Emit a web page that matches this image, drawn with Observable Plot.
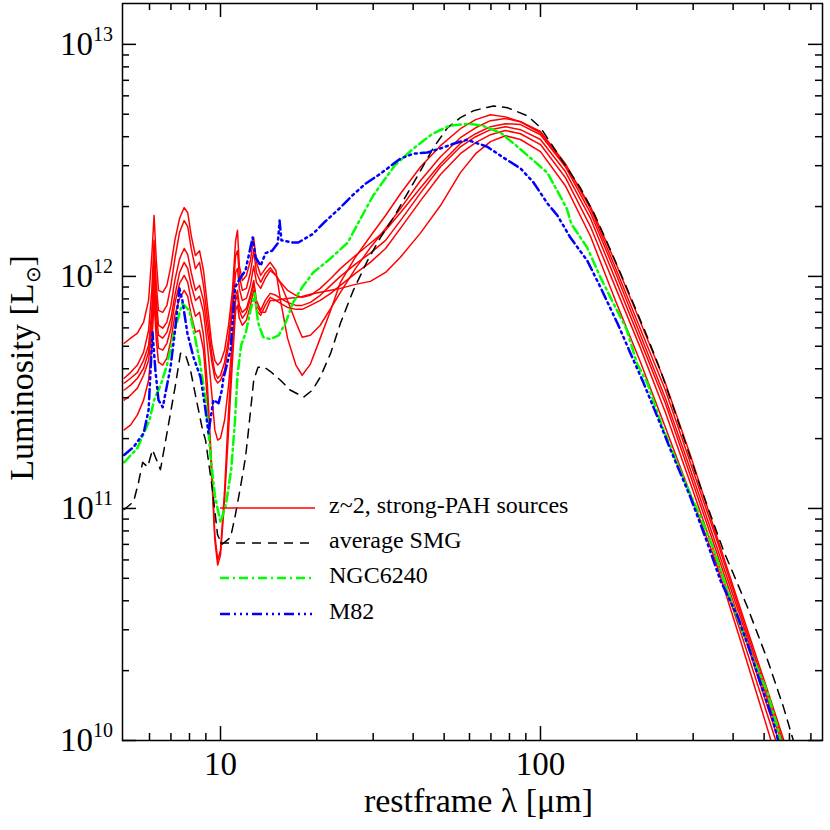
<!DOCTYPE html>
<html>
<head>
<meta charset="utf-8">
<script src="https://cdn.jsdelivr.net/npm/d3@7"></script>
<script src="https://cdn.jsdelivr.net/npm/@observablehq/plot@0.6"></script>
<style>
  html, body { margin: 0; padding: 0; background: #fff; }
  #chart { position: relative; width: 830px; height: 830px; }
</style>
</head>
<body>
<div id="chart"></div>
<script>
// Luminosity values below are in units of 1e11 L_sun
const UNIT = 1e11;

// ---- z~2 strong-PAH sources (six model SEDs on a shared wavelength grid, micron) ----
const redLambda = [5.0, 5.24, 5.5, 5.75, 5.96, 6.1, 6.2, 6.3, 6.4, 6.6,
  6.8, 7.0, 7.2, 7.45, 7.7, 7.9, 8.1, 8.35, 8.6, 8.85,
  9.1, 9.4, 9.6, 9.8, 10.0, 10.3, 10.6, 10.9, 11.15, 11.3,
  11.45, 11.7, 12.05, 12.4, 12.7, 12.95, 13.35, 13.8, 14.3, 14.9,
  15.4, 16.2, 17.2, 18.0, 19.1, 20.5, 22.1, 23.7, 26.4, 29.4,
  32.8, 36.5, 42.2, 48.7, 56.2, 62.7, 69.8, 77.7, 86.6, 100,
  119.6, 143.3, 171.5, 205.4, 245.6, 294.3, 352.2, 421.7, 504.7, 604.3];

const redA = [5.15, 5.42, 5.70, 6.35, 7.88, 12.3, 18.3, 11.7, 8.71, 8.54,
  9.15, 11.1, 14.3, 17.8, 19.8, 18.8, 15.0, 12.3, 12.9, 10.6,
  7.50, 5.05, 4.35, 4.15, 4.27, 4.81, 6.16, 8.71, 14.3, 15.8,
  11.1, 9.61, 10.1, 11.7, 14.7, 11.5, 10.1, 10.8, 11.5, 10.6,
  7.88, 5.42, 4.15, 3.75, 4.19, 5.42, 7.14, 9.43, 12.1, 14.9,
  18.3, 22.7, 29.7, 36.6, 43.3, 47.4, 49.7, 48.7, 46.4, 41.6,
  30.3, 20.0, 11.5, 6.35, 3.47, 1.69, 0.79, 0.37, 0.175, 0.082];

const redB = [3.64, 3.86, 4.15, 4.72, 5.86, 8.71, 14.3, 9.15, 7.14, 7.0,
  7.50, 9.15, 11.9, 15.5, 17.4, 16.4, 13.2, 10.8, 11.5, 9.15,
  6.60, 4.58, 3.86, 3.64, 3.75, 4.27, 5.42, 7.88, 12.3, 12.9,
  10.1, 8.71, 8.88, 10.4, 12.9, 10.4, 9.43, 10.3, 10.9, 10.1,
  9.34, 7.88, 6.35, 5.47, 5.58, 6.16, 7.28, 8.54, 10.8, 13.3,
  16.1, 19.6, 25.9, 32.8, 39.6, 43.7, 46.9, 47.9, 46.4, 42.1,
  30.6, 19.6, 10.9, 5.92, 3.24, 1.57, 0.76, 0.355, 0.167, 0.079];

const redC = [3.47, 3.64, 3.86, 4.35, 5.05, 7.14, 12.3, 7.88, 6.16, 5.98,
  6.35, 7.50, 9.61, 11.9, 13.2, 12.4, 10.4, 8.71, 9.15, 7.88,
  5.86, 4.27, 3.64, 3.47, 3.57, 3.94, 5.05, 7.14, 10.4, 10.8,
  8.88, 7.88, 8.04, 9.15, 11.1, 9.43, 8.88, 9.80, 10.6, 10.1,
  9.43, 8.71, 8.29, 8.12, 8.29, 8.88, 9.80, 10.8, 12.3, 13.9,
  15.8, 18.8, 24.1, 30.6, 37.4, 41.2, 44.2, 45.5, 45.1, 40.8,
  29.7, 18.8, 10.4, 5.58, 2.99, 1.47, 0.71, 0.34, 0.16, 0.075];

const redD = [3.24, 3.40, 3.64, 4.02, 4.72, 6.47, 10.8, 7.0, 5.58, 5.42,
  5.75, 6.60, 8.29, 10.4, 11.5, 10.8, 9.15, 7.88, 8.20, 7.0,
  5.05, 3.08, 2.18, 1.97, 2.01, 2.40, 3.40, 5.31, 8.29, 8.71,
  7.50, 7.0, 7.28, 8.29, 9.61, 7.88, 7.14, 7.88, 8.45, 8.29,
  8.04, 7.73, 7.50, 7.50, 7.73, 8.29, 9.15, 10.0, 11.3, 12.6,
  14.3, 17.4, 22.9, 29.7, 36.2, 40.0, 42.9, 44.2, 42.9, 38.9,
  28.3, 17.8, 9.71, 5.26, 2.84, 1.38, 0.67, 0.32, 0.149, 0.070];

const redE = [2.18, 2.29, 2.53, 2.93, 3.57, 5.05, 7.88, 5.31, 4.27, 4.15,
  4.44, 5.31, 6.80, 8.04, 8.71, 8.20, 6.80, 5.75, 5.86, 4.81,
  2.93, 1.33, 0.73, 0.57, 0.63, 1.09, 2.18, 4.35, 7.14, 7.50,
  6.60, 6.16, 6.47, 7.50, 8.71, 7.14, 6.80, 7.50, 8.12, 7.88,
  7.65, 7.35, 7.21, 7.21, 7.50, 7.88, 8.45, 9.15, 10.3, 11.5,
  13.2, 16.1, 21.2, 27.5, 33.8, 37.7, 40.8, 42.5, 41.2, 37.0,
  26.7, 16.4, 8.97, 4.91, 2.60, 1.28, 0.625, 0.295, 0.137, 0.064];

const redF = [2.93, 3.08, 3.30, 3.75, 4.35, 5.86, 9.15, 6.16, 4.91, 4.81,
  5.15, 5.98, 7.65, 9.34, 10.1, 9.43, 7.88, 6.73, 7.0, 5.58,
  3.40, 1.47, 0.77, 0.60, 0.66, 1.20, 2.65, 5.05, 7.88, 8.29,
  7.14, 6.60, 7.0, 8.04, 9.34, 7.50, 7.0, 7.0, 7.88, 7.88,
  7.96, 8.04, 8.12, 8.20, 8.37, 8.54, 8.71, 8.88, 9.24, 9.52,
  10.4, 12.1, 15.4, 20.2, 28.0, 33.8, 38.1, 40.4, 38.9, 34.5,
  24.6, 14.9, 7.88, 4.27, 2.24, 1.15, 0.595, 0.27, 0.12, 0.053];

// ---- average SMG ----
const smgLambda = [5.0, 5.35, 5.54, 5.71, 5.92, 6.13, 6.49, 6.83, 7.23, 7.50,
  7.77, 8.06, 8.41, 8.79, 8.98, 9.44, 9.79, 10.1, 10.75, 11.1,
  11.55, 11.97, 12.2, 12.7, 13.1, 13.7, 14.3, 15.4, 16.5, 18.2,
  19.4, 20.5, 22.1, 23.7, 26.0, 28.8, 31.6, 34.7, 38.4, 42.2,
  46.3, 51.2, 56.2, 61.8, 71.3, 78.9, 91.1, 100, 110, 121,
  133, 147, 162, 178, 195, 216, 237, 260, 316, 373,
  443, 512, 574, 617, 650];
const smgL = [0.99, 1.07, 1.29, 1.58, 1.51, 1.79, 1.47, 2.18, 3.40, 4.67,
  4.60, 3.94, 2.93, 2.18, 1.97, 1.20, 0.77, 0.70, 0.75, 0.92,
  1.24, 1.66, 2.10, 3.57, 4.06, 4.06, 3.90, 3.57, 3.24, 3.02,
  3.24, 3.68, 4.67, 6.28, 8.7, 11.7, 14.7, 17.9, 22.8, 28.6,
  35.9, 43.7, 48.3, 51.8, 54.3, 53.3, 49.2, 43.8, 35.9, 29.4,
  24.2, 18.7, 13.9, 10.3, 7.66, 5.47, 3.94, 2.73, 1.24, 0.66,
  0.377, 0.223, 0.14, 0.10, 0.078];

// ---- NGC6240 ----
const ngcLambda = [5.0, 5.5, 6.0, 6.2, 6.5, 6.8, 7.2, 7.6, 8.0, 8.3,
  8.6, 9.0, 9.3, 9.6, 10.0, 10.4, 10.8, 11.1, 11.3, 11.6,
  12.0, 12.4, 12.8, 13.1, 13.6, 14.3, 15.2, 16.0, 16.8, 18.0,
  19.5, 22, 25, 27, 30, 35, 40, 46, 52, 60,
  66, 75, 84, 95, 105, 115, 121, 125, 140, 154,
  169, 186, 200, 216, 232, 242, 279, 316, 346, 381,
  422, 464, 512, 549, 580];
const ngcL = [1.58, 1.82, 2.40, 2.93, 3.40, 4.14, 5.90, 7.66, 7.10, 5.57,
  4.35, 2.93, 1.70, 1.14, 0.87, 1.04, 1.47, 2.40, 3.75, 5.05,
  5.74, 7.10, 8.45, 6.34, 5.47, 5.37, 5.57, 6.34, 7.66, 8.97,
  10.4, 11.9, 14.0, 17.1, 22.3, 30.0, 35.5, 41.2, 44.6, 45.5,
  44.6, 41.6, 36.6, 31.6, 28.0, 22.3, 19.5, 16.8, 13.3, 9.9,
  7.66, 5.90, 4.23, 3.46, 2.58, 2.20, 1.36, 0.92, 0.68, 0.46,
  0.31, 0.223, 0.161, 0.115, 0.085];

// ---- M82 ----
const m82Lambda = [5.0, 5.35, 5.75, 5.96, 6.13, 6.26, 6.4, 6.6, 6.73, 6.98,
  7.23, 7.44, 7.6, 7.88, 8.23, 8.66, 8.98, 9.17, 9.5, 9.86,
  10.1, 10.2, 10.75, 11.1, 11.55, 11.97, 12.6, 12.87, 13.34, 13.83,
  14.5, 15.1, 15.3, 15.5, 16.8, 17.5, 19.4, 21.3, 23.7, 25.8,
  28.4, 31.6, 36.5, 40.1, 44.3, 48.7, 53.5, 58.9, 61.6, 68.2,
  76.6, 86.6, 95.1, 105.2, 113, 124, 140, 154, 174, 191,
  210, 232, 255, 294, 330, 365, 414, 453, 494, 532,
  553, 580];
const m82L = [1.70, 1.84, 2.11, 2.65, 5.75, 3.94, 2.93, 2.73, 3.14, 4.06,
  6.04, 8.88, 7.9, 5.69, 4.49, 3.68, 2.65, 2.11, 2.93, 2.84,
  3.24, 3.61, 4.80, 8.97, 9.9, 10.6, 14.7, 12.1, 11.1, 12.6,
  12.9, 13.9, 17.4, 14.3, 14.0, 14.0, 15.2, 17.3, 19.8, 22.3,
  25.1, 27.7, 32.2, 33.8, 34.2, 35.6, 37.3, 38.8, 38.0, 36.2,
  32.5, 29.2, 25.4, 20.6, 18.3, 14.7, 11.7, 8.97, 6.28, 4.67,
  3.47, 2.48, 1.79, 1.12, 0.73, 0.49, 0.34, 0.24, 0.166, 0.123,
  0.10, 0.08];

// ---- axes ----
const xMajor = [10, 100];
const xMinor = [6, 7, 8, 9, 20, 30, 40, 50, 60, 70, 80, 90, 200, 300, 400, 500, 600, 700];
const yMajor = [1e10, 1e11, 1e12, 1e13];
const yMinor = [2e10, 3e10, 4e10, 5e10, 6e10, 7e10, 8e10, 9e10,
  2e11, 3e11, 4e11, 5e11, 6e11, 7e11, 8e11, 9e11,
  2e12, 3e12, 4e12, 5e12, 6e12, 7e12, 8e12, 9e12];
const xTitle = "restframe λ [μm]";
const yTitle = "Luminosity [L";
const yTitleSub = "⊙";
const legendLabels = ["z~2, strong-PAH sources", "average SMG", "NGC6240", "M82"];

// ---- build tables ----
const toRows = (lam, vals, id) => lam.map((l, i) => ({lambda: l, L: vals[i] * UNIT, id}));
const redRows = [redA, redB, redC, redD, redE, redF].flatMap((v, k) => toRows(redLambda, v, "src" + k));
const smgRows = toRows(smgLambda, smgL, "smg");
const ngcRows = toRows(ngcLambda, ngcL, "ngc");
const m82Rows = toRows(m82Lambda, m82L, "m82");

const W = 830, H = 830, mL = 122, mR = 8, mT = 3, mB = 90;
const FW = W - mL - mR, FH = H - mT - mB;
const MAJ = 14, MIN = 7;
const tk = {stroke: "black", strokeWidth: 1.5};
const FONT = "'Liberation Serif', 'Times New Roman', Times, serif";

const styles = {
  red:   {stroke: "#ff0000", strokeWidth: 1.5, strokeDasharray: null},
  smg:   {stroke: "#000000", strokeWidth: 1.5, strokeDasharray: "9,7"},
  ngc:   {stroke: "#00ff00", strokeWidth: 2.5, strokeDasharray: "9,4,2,4"},
  m82:   {stroke: "#0000ff", strokeWidth: 2.5, strokeDasharray: "10,4,2,4,2,4,2,4"}
};

const plot = Plot.plot({
  width: W, height: H,
  marginLeft: mL, marginRight: mR, marginTop: mT, marginBottom: mB,
  style: {fontFamily: FONT, background: "white", color: "black"},
  x: {type: "log", domain: [4.94, 761], axis: null},
  y: {type: "log", domain: [1e10, 1.5e13], axis: null},
  marks: [
    Plot.line(redRows, {x: "lambda", y: "L", z: "id", ...styles.red, clip: true}),
    Plot.line(smgRows, {x: "lambda", y: "L", ...styles.smg, clip: true}),
    Plot.line(ngcRows, {x: "lambda", y: "L", ...styles.ngc, clip: true}),
    Plot.line(m82Rows, {x: "lambda", y: "L", ...styles.m82, clip: true}),
    // inward ticks on all four sides
    Plot.tickX(xMajor, {x: d => d, insetTop: FH - MAJ, ...tk}),
    Plot.tickX(xMajor, {x: d => d, insetBottom: FH - MAJ, ...tk}),
    Plot.tickX(xMinor, {x: d => d, insetTop: FH - MIN, ...tk}),
    Plot.tickX(xMinor, {x: d => d, insetBottom: FH - MIN, ...tk}),
    Plot.tickY(yMajor, {y: d => d, insetRight: FW - MAJ, ...tk}),
    Plot.tickY(yMajor, {y: d => d, insetLeft: FW - MAJ, ...tk}),
    Plot.tickY(yMinor, {y: d => d, insetRight: FW - MIN, ...tk}),
    Plot.tickY(yMinor, {y: d => d, insetLeft: FW - MIN, ...tk}),
    Plot.frame({stroke: "black", strokeWidth: 1.5}),
    Plot.text(xMajor, {x: d => d, frameAnchor: "bottom", dy: 34, text: d => String(d), fontSize: 33, fill: "black"}),
    Plot.text([xTitle], {frameAnchor: "bottom", dx: 6, dy: 71, text: d => d, fontSize: 34, fill: "black"})
  ]
});

document.getElementById("chart").appendChild(plot);

const svg = d3.select(plot);
const ys = plot.scale("y");

// y tick labels with superscript exponents
const yl = svg.append("g").attr("font-family", FONT).attr("fill", "black");
yMajor.forEach(v => {
  const t = yl.append("text")
    .attr("x", mL - 9)
    .attr("y", ys.apply(v) + 11)
    .attr("text-anchor", "end");
  t.append("tspan").attr("font-size", 33).text("10");
  t.append("tspan").attr("font-size", 20).attr("dy", -14).text(String(Math.round(Math.log10(v))));
});

// y axis title with subscript sun symbol
const yt = svg.append("text")
  .attr("transform", "translate(33,368) rotate(-90)")
  .attr("text-anchor", "middle")
  .attr("font-family", FONT)
  .attr("font-size", 34)
  .attr("fill", "black");
yt.append("tspan").text(yTitle);
yt.append("tspan").attr("font-size", 20).attr("dy", 7).text(yTitleSub);
yt.append("tspan").attr("dy", -7).text("]");

// legend
const legendStyles = [styles.red, styles.smg, styles.ngc, styles.m82];
const legendRowsY = [508, 543, 578, 614];
const lg = svg.append("g").attr("font-family", FONT).attr("font-size", 24).attr("fill", "black");
legendLabels.forEach((lab, i) => {
  const s = legendStyles[i];
  const ln = lg.append("line")
    .attr("x1", 220).attr("x2", 315)
    .attr("y1", legendRowsY[i]).attr("y2", legendRowsY[i])
    .attr("stroke", s.stroke).attr("stroke-width", s.strokeWidth);
  if (s.strokeDasharray) ln.attr("stroke-dasharray", s.strokeDasharray);
  lg.append("text")
    .attr("x", 329).attr("y", legendRowsY[i] + 5)
    .attr("text-anchor", "start")
    .text(lab);
});
</script>
</body>
</html>
